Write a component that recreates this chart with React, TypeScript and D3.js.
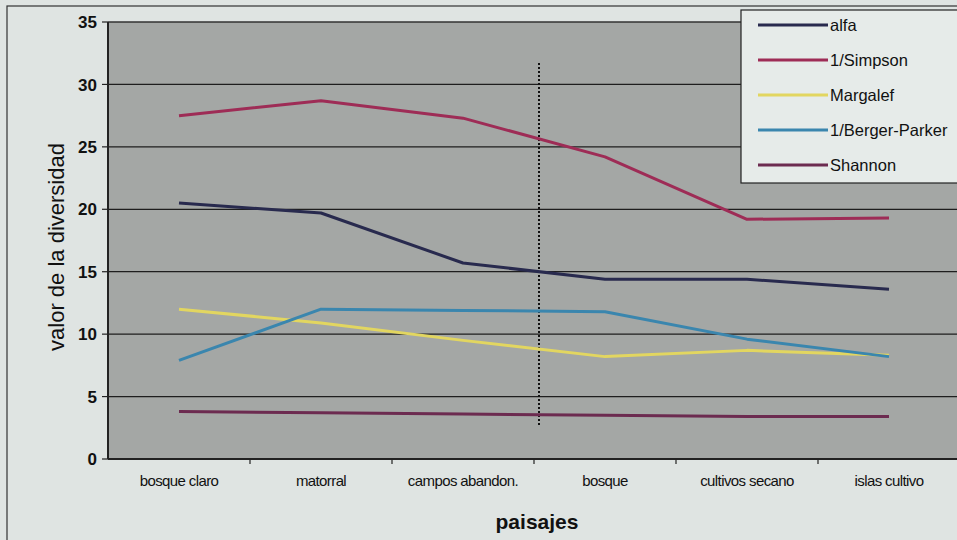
import React from "react";
import * as d3 from "d3";

const categories = ["bosque claro", "matorral", "campos abandon.", "bosque", "cultivos secano", "islas cultivo"];
const seriesNames = ["alfa", "1/Simpson", "Margalef", "1/Berger-Parker", "Shannon"];
const alfa = [20.5, 19.7, 15.7, 14.4, 14.4, 13.6];
const simpson = [27.5, 28.7, 27.3, 24.2, 19.2, 19.3];
const margalef = [12.0, 10.9, 9.5, 8.2, 8.7, 8.3];
const bergerParker = [7.9, 12.0, 11.9, 11.8, 9.6, 8.2];
const shannon = [3.8, 3.7, 3.6, 3.5, 3.4, 3.4];
const yTicks = [0, 5, 10, 15, 20, 25, 30, 35];
const colors = ["#282a4e", "#9e2c56", "#e2d660", "#3a86ae", "#6c2b50"];
const dividerAfter = 3;

export default function App() {
  const W = 957, H = 540;
  const left = 108, right = 960, top = 22, bottom = 459;
  const x = d3.scaleBand<string>().domain(categories).range([left, right]);
  const y = d3.scaleLinear().domain([0, 35]).range([bottom, top]);
  const all = [alfa, simpson, margalef, bergerParker, shannon];
  const line = d3.line<number>()
    .x((_, i) => (x(categories[i]) as number) + x.bandwidth() / 2)
    .y((d) => y(d));
  const divX = left + x.step() * dividerAfter + 5;
  const font = "Arial, 'Liberation Sans', sans-serif";
  return (
    <svg width={W} height={H} style={{ position: "absolute", left: 0, top: 0, background: "#dfe4e2" }}>
      <rect x={0} y={0} width={W} height={H} fill="#dfe4e2" />
      <rect x={7} y={6} width={W + 10} height={H + 10} fill="none" stroke="#333" strokeWidth={1.2} />
      <rect x={left} y={top} width={right - left} height={bottom - top} fill="#a4a7a5" />
      {yTicks.map((t) => (
        <g key={t}>
          {t > 0 && t < 35 && <line x1={left} x2={right} y1={y(t)} y2={y(t)} stroke="#1e1e1e" strokeWidth={1.2} />}
          <line x1={left - 6} x2={left} y1={y(t)} y2={y(t)} stroke="#222" strokeWidth={1.2} />
          <text x={left - 11} y={y(t)} dy="0.36em" textAnchor="end" fontFamily={font} fontWeight="bold" fontSize={17} fill="#111">{t}</text>
        </g>
      ))}
      <line x1={left} x2={right} y1={top} y2={top} stroke="#333" strokeWidth={1.5} />
      <line x1={left} x2={left} y1={top} y2={bottom} stroke="#222" strokeWidth={2} />
      <line x1={left} x2={right} y1={bottom} y2={bottom} stroke="#222" strokeWidth={2} />
      {categories.map((c, i) => (
        <g key={c}>
          <line x1={left + x.step() * (i + 1)} x2={left + x.step() * (i + 1)} y1={bottom} y2={bottom + 5} stroke="#222" strokeWidth={1.2} />
          <text x={(x(c) as number) + x.bandwidth() / 2} y={486} textAnchor="middle" fontFamily={font} fontSize={15} letterSpacing={-0.6} fill="#111">{c}</text>
        </g>
      ))}
      <line x1={divX} x2={divX} y1={63} y2={425} stroke="#111" strokeWidth={2} strokeDasharray="2,2" />
      {all.map((s, i) => (
        <path key={seriesNames[i]} d={line(s) || ""} fill="none" stroke={colors[i]} strokeWidth={3} strokeLinejoin="round" />
      ))}
      <text transform="translate(64,247) rotate(-90)" textAnchor="middle" fontFamily={font} fontSize={22} fill="#111">valor de la diversidad</text>
      <text x={537} y={529} textAnchor="middle" fontFamily={font} fontWeight="bold" fontSize={21} fill="#111">paisajes</text>
      <rect x={741} y={10} width={230} height={173} fill="#e6ebe9" stroke="#222" strokeWidth={1.2} />
      {seriesNames.map((n, i) => (
        <g key={n}>
          <line x1={758} x2={828} y1={25 + i * 35} y2={25 + i * 35} stroke={colors[i]} strokeWidth={3} />
          <text x={830} y={25 + i * 35} dy="0.36em" fontFamily={font} fontSize={16.5} fill="#111">{n}</text>
        </g>
      ))}
    </svg>
  );
}
